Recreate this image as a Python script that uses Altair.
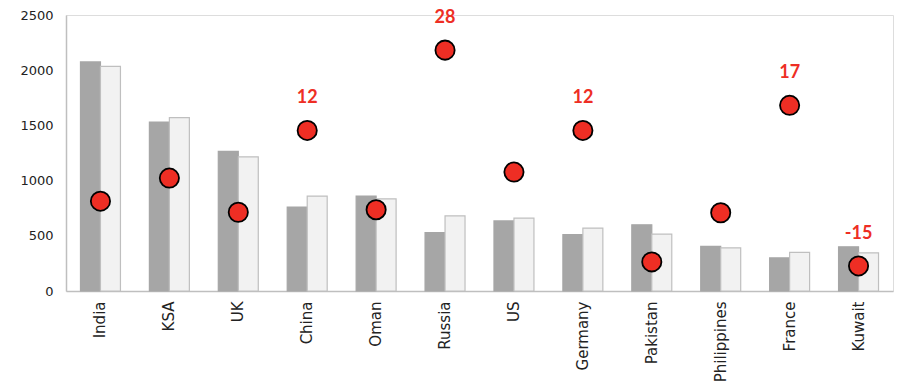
import altair as alt
import pandas as pd

countries = ["India", "KSA", "UK", "China", "Oman", "Russia", "US", "Germany",
             "Pakistan", "Philippines", "France", "Kuwait"]
previous = [2075, 1530, 1265, 760, 860, 530, 635, 510, 600, 405, 300, 400]
current = [2035, 1570, 1215, 860, 835, 680, 660, 570, 515, 390, 350, 345]
growth = [-2.1, 2.5, -4.3, 12, -3.8, 28, 3.7, 12, -14.2, -4.4, 17, -15]
labels = ["", "", "", "12", "", "28", "", "12", "", "", "17", "-15"]
series = ["Previous", "Current"]

bars_df = pd.DataFrame({
    "country": countries * 2,
    "series": [series[0]] * len(countries) + [series[1]] * len(countries),
    "value": previous + current,
})
pts_df = pd.DataFrame({"country": countries, "growth": growth, "label": labels})

x_enc = alt.X("country:N", sort=countries, title=None,
              scale=alt.Scale(paddingInner=0.42, paddingOuter=0.21),
              axis=alt.Axis(labelAngle=-90, labelAlign="right", labelBaseline="middle",
                            labelPadding=10, labelFontSize=15))

bars = alt.Chart(bars_df).mark_bar(strokeWidth=1.2).encode(
    x=x_enc,
    xOffset=alt.XOffset("series:N", sort=series, scale=alt.Scale(paddingInner=0, paddingOuter=0)),
    y=alt.Y("value:Q", title=None,
            scale=alt.Scale(domain=[0, 2500], nice=False),
            axis=alt.Axis(values=[0, 500, 1000, 1500, 2000, 2500], format="d",
                          labelPadding=13, labelFontSize=13)),
    color=alt.Color("series:N", sort=series, legend=None,
                    scale=alt.Scale(domain=series, range=["#A6A6A6", "#F2F2F2"])),
    stroke=alt.Stroke("series:N", sort=series, legend=None,
                      scale=alt.Scale(domain=series, range=["#A6A6A6", "#BFBFBF"])),
)

gscale = alt.Scale(domain=[-20, 35], nice=False)

points = alt.Chart(pts_df).mark_point(
    filled=True, size=370, fill="#EE2E24", stroke="#000000", strokeWidth=1.8, opacity=1
).encode(
    x=alt.X("country:N", sort=countries),
    y=alt.Y("growth:Q", scale=gscale, axis=None),
)

text = alt.Chart(pts_df).mark_text(
    font="Lato", fontSize=18, fontWeight="bold", color="#EE2E24",
    baseline="alphabetic", align="center", dy=-27
).encode(
    x=alt.X("country:N", sort=countries),
    y=alt.Y("growth:Q", scale=gscale, axis=None),
    text="label:N",
).transform_filter("datum.label != ''")

chart = alt.layer(bars, points, text).resolve_scale(
    y="independent", color="independent", stroke="independent"
).properties(
    width=827, height=276,
    autosize=alt.AutoSizeParams(type="none"),
    padding={"left": 66, "top": 15, "right": 6, "bottom": 98},
).configure_view(stroke=None).configure(background="white").configure_axis(
    labelFont="DejaVu Sans", labelColor="#222222",
    ticks=False, domainColor="#BFBFBF", domainWidth=1.5, grid=False
)

chart.save("out.html", embed_options={"renderer": "svg", "actions": False})
